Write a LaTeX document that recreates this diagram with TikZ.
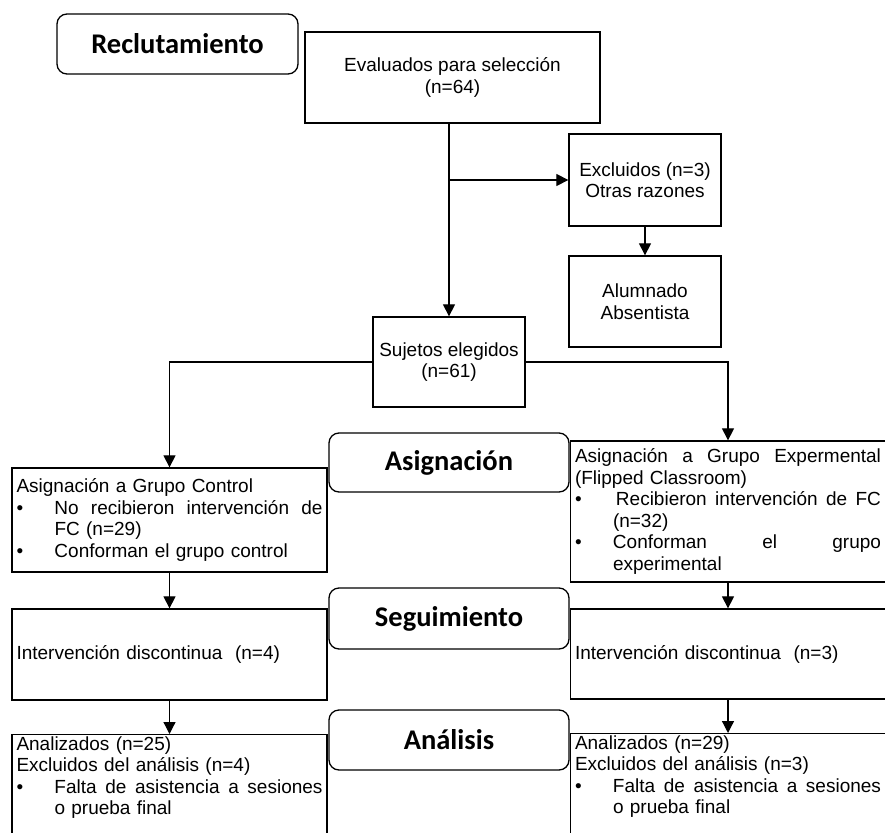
\documentclass[tikz,border=0pt]{standalone}
\usepackage{fontspec}
\setmainfont{Liberation Sans}
\newfontfamily\headfont{Carlito}
\usetikzlibrary{arrows.meta}
% lineas de viñeta y lineas justificadas
\newcommand{\bulitem}[1]{\makebox[38pt][l]{\textbullet}#1}
\newcommand{\contitem}[1]{\hspace*{38pt}#1}
\newcommand{\fillline}[2]{\makebox[#1][s]{\spaceskip=.28em plus 1fil\relax#2}}
\tikzset{
	caja/.style={draw, line width=1.3pt, fill=white, inner sep=0pt, align=center},
	cajatexto/.style={draw, line width=1.3pt, fill=white, inner xsep=4.5pt, inner ysep=2pt, text width=306pt, align=left},
	etapa/.style={draw, line width=1.3pt, fill=white, rounded corners=10pt, minimum width=240pt, minimum height=60pt, font=\headfont\bfseries\fontsize{28.5}{30}\selectfont},
	flecha/.style={line width=1.2pt, -{Triangle[length=12pt,width=12pt]}}
}
\begin{document}
\begin{tikzpicture}[x=1pt, y=-1pt, font=\fontsize{19}{21.5}\selectfont]
	\useasboundingbox (0,0) rectangle (885,832);
	\clip (0,0) rectangle (885,832);
	
	% Reclutamiento
	\node[caja, minimum width=295pt, minimum height=91pt] (eval) at (452.5,77.5) {Evaluados para selección\\(n=64)};
	\node[caja, minimum width=152pt, minimum height=92pt] (excl) at (645,180) {Excluidos (n=3)\\Otras razones};
	\node[caja, minimum width=152pt, minimum height=91pt] (alum) at (645,301.5) {Alumnado\\Absentista};
	\node[caja, minimum width=152pt, minimum height=90pt] (suj) at (449,362) {Sujetos elegidos\\(n=61)};
	
	% Asignación
	\node[cajatexto, minimum height=104pt] (ctrl) at (169.5,520) {Asignación a Grupo Control\\
		\bulitem{\fillline{268pt}{No recibieron intervención de}}\\
		\contitem{FC (n=29)}\\
		\bulitem{Conforman el grupo control}};
	\node[cajatexto, minimum height=141pt] (exp) at (728,511.5) {\fillline{306pt}{Asignación a Grupo Expermental}\\
		(Flipped Classroom)\\
		\bulitem{\hspace*{3pt}\fillline{265pt}{Recibieron intervención de FC}}\\
		\contitem{(n=32)}\\
		\bulitem{\fillline{268pt}{Conforman el grupo}}\\
		\contitem{experimental}};
	
	% Seguimiento
	\node[cajatexto, minimum height=91pt] (segL) at (169.5,654.5) {Intervención discontinua\ \ (n=4)};
	\node[cajatexto, minimum height=90pt] (segR) at (728,654) {Intervención discontinua\ \ (n=3)};
	
	% Análisis
	\node[cajatexto, anchor=north] (anaL) at (169.5,734) {Analizados (n=25)\\
		Excluidos del análisis (n=4)\\
		\bulitem{\fillline{268pt}{Falta de asistencia a sesiones}}\\
		\contitem{o prueba final}\\ \mbox{}};
	\node[cajatexto, anchor=north] (anaR) at (728,733) {Analizados (n=29)\\
		Excluidos del análisis (n=3)\\
		\bulitem{\fillline{268pt}{Falta de asistencia a sesiones}}\\
		\contitem{o prueba final}\\ \mbox{}};
	
	% Flechas
	\draw[flecha] (suj.north |- eval.south) -- (suj.north);
	\draw[flecha] (suj.north |- excl.west) -- (excl.west);
	\draw[flecha] (excl.south) -- (alum.north);
	\draw[flecha] (suj.west) -| (ctrl.north);
	\draw[flecha] (suj.east) -| (exp.north);
	\draw[flecha] (ctrl.south) -- (segL.north);
	\draw[flecha] (segL.south) -- (anaL.north);
	\draw[flecha] (exp.south) -- (segR.north);
	\draw[flecha] (segR.south) -- (anaR.north);
	
	% Etapas
	\node[etapa, minimum width=241pt] (recl) at (177.5,44) {Reclutamiento};
	\node[etapa, minimum height=59pt] (asig) at (449,462.5) {Asignación};
	\node[etapa, minimum height=61pt] (segui) at (449,618.5) {Seguimiento};
	\node[etapa] (anali) at (449,740) {Análisis};
\end{tikzpicture}
\end{document}
